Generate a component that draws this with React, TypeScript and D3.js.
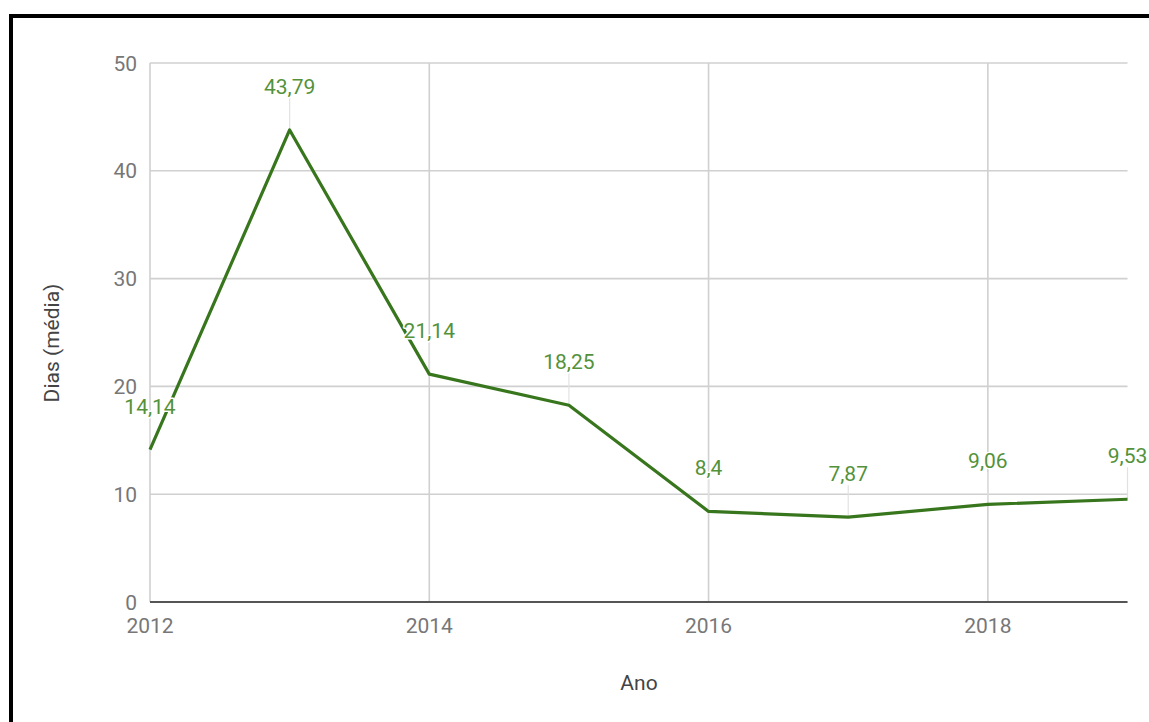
import React from "react";
import * as d3 from "d3";

const years: number[] = [2012, 2013, 2014, 2015, 2016, 2017, 2018, 2019];
const diasMedia: number[] = [14.14, 43.79, 21.14, 18.25, 8.4, 7.87, 9.06, 9.53];
const xTicks: number[] = [2012, 2014, 2016, 2018];
const yTicks: number[] = [0, 10, 20, 30, 40, 50];

const W = 1149;
const H = 722;
const plot = { left: 150, right: 1127.5, top: 63, bottom: 602 };

const FONT = "Roboto, 'Noto Sans', Arial, sans-serif";
const LINE_COLOR = "#38761d";
const LABEL_COLOR = "#53923a";
const TICK_COLOR = "#777";

const fmt = (v: number) => String(v).replace(".", ",");

export default function App() {
  const x = d3.scaleLinear().domain([2012, 2019]).range([plot.left, plot.right]);
  const y = d3.scaleLinear().domain([0, 50]).range([plot.bottom, plot.top]);

  const points = years.map((yr, i) => ({ yr, v: diasMedia[i] }));
  const line = d3
    .line<{ yr: number; v: number }>()
    .x((d) => x(d.yr))
    .y((d) => y(d.v));

  return (
    <svg
      width={W}
      height={H}
      style={{ position: "absolute", left: 0, top: 0, display: "block", background: "#fff" }}
      fontFamily={FONT}
    >
      <rect x={0} y={0} width={W} height={H} fill="#fff" />
      {/* frame around the chart, running past the right and bottom edges */}
      <rect x={11} y={16} width={W + 20} height={H + 20} fill="none" stroke="#000" strokeWidth={4} />

      {/* horizontal gridlines */}
      {yTicks.map((t) => (
        <line
          key={"gy" + t}
          x1={plot.left}
          x2={plot.right}
          y1={y(t)}
          y2={y(t)}
          stroke="#d0d0d0"
          strokeWidth={1.6}
        />
      ))}
      {/* vertical gridlines */}
      {xTicks.map((t) => (
        <line
          key={"gx" + t}
          x1={x(t)}
          x2={x(t)}
          y1={plot.top}
          y2={plot.bottom}
          stroke="#d0d0d0"
          strokeWidth={1.6}
        />
      ))}
      {/* baseline */}
      <line x1={plot.left} x2={plot.right} y1={y(0)} y2={y(0)} stroke="#555" strokeWidth={2} />

      {/* y tick labels */}
      {yTicks.map((t) => (
        <text
          key={"ty" + t}
          x={137}
          y={y(t)}
          dy="0.36em"
          textAnchor="end"
          fontSize={21}
          fill={TICK_COLOR}
        >
          {t}
        </text>
      ))}
      {/* x tick labels */}
      {xTicks.map((t) => (
        <text
          key={"tx" + t}
          x={x(t)}
          y={633}
          textAnchor="middle"
          fontSize={21}
          fill={TICK_COLOR}
        >
          {t}
        </text>
      ))}

      {/* axis titles */}
      <text x={639} y={690} textAnchor="middle" fontSize={21} fill="#444">
        Ano
      </text>
      <text
        transform={`translate(59,343) rotate(-90)`}
        textAnchor="middle"
        fontSize={21}
        fill="#444"
      >
        Dias (média)
      </text>

      {/* annotation stems */}
      {points.map((p) => (
        <line
          key={"st" + p.yr}
          x1={x(p.yr)}
          x2={x(p.yr)}
          y1={y(p.v) - 32}
          y2={y(p.v)}
          stroke="#e2e2e2"
          strokeWidth={1.2}
        />
      ))}

      {/* series line */}
      <path d={line(points) || ""} fill="none" stroke={LINE_COLOR} strokeWidth={3.2} strokeLinejoin="round" />

      {/* value labels */}
      {points.map((p) => (
        <text
          key={"lb" + p.yr}
          x={x(p.yr)}
          y={y(p.v) - 36}
          textAnchor="middle"
          fontSize={21}
          fill={LABEL_COLOR}
          stroke="#fff"
          strokeWidth={3}
          paintOrder="stroke"
          strokeLinejoin="round"
        >
          {fmt(p.v)}
        </text>
      ))}
    </svg>
  );
}
